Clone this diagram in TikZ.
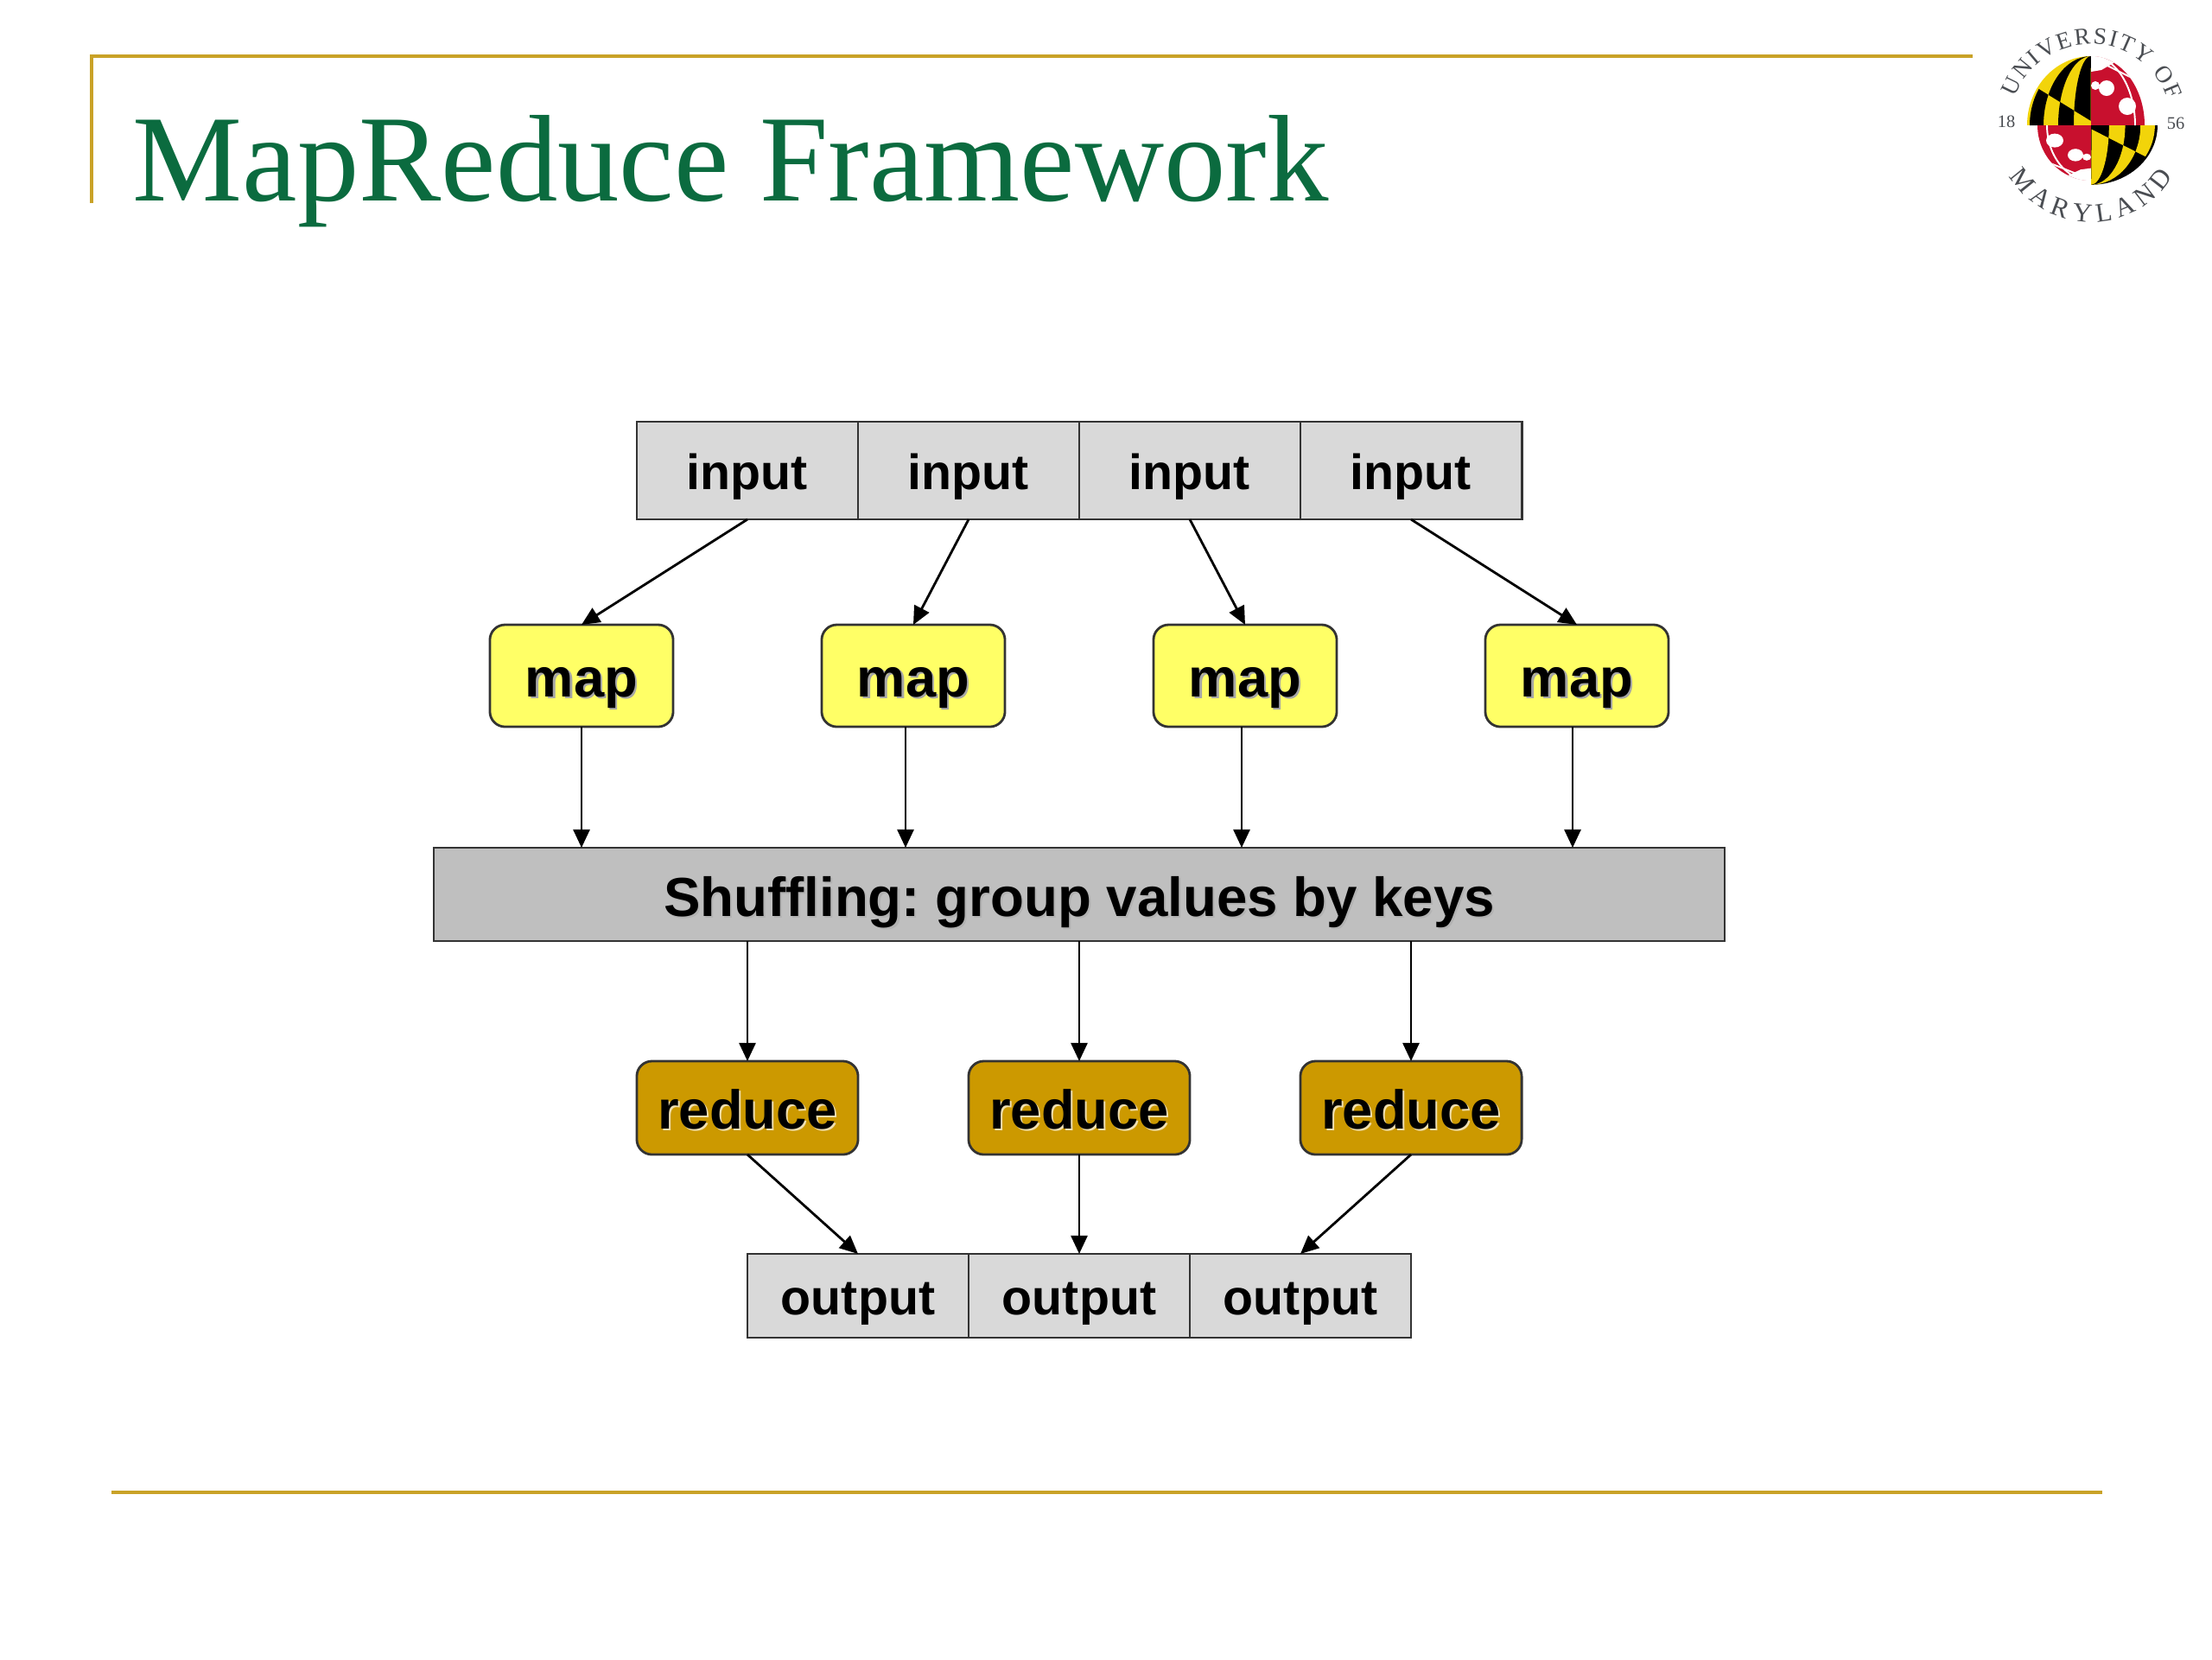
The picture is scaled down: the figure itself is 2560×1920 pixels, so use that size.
\documentclass[tikz,border=0pt]{standalone}
\usepackage{fontspec}
\setmainfont{Liberation Sans}
\newfontfamily\serifface{Liberation Serif}
\usetikzlibrary{arrows.meta,decorations.text}

\definecolor{rulegold}{HTML}{C9A227}
\definecolor{titlegreen}{HTML}{0B6B3F}
\definecolor{inputgray}{HTML}{D9D9D9}
\definecolor{shufflegray}{HTML}{BFBFBF}
\definecolor{mapyellow}{HTML}{FFFF66}
\definecolor{reducegold}{HTML}{CC9900}
\definecolor{logogray}{HTML}{4A4D52}
\definecolor{flaggold}{HTML}{F2D40A}
\definecolor{flagred}{HTML}{C8102E}
\colorlet{bandfore}{black}
\colorlet{bandback}{flaggold}

\newcommand{\softtext}[2]{\makebox[0pt][l]{\raisebox{-0.6pt}{\hspace{0.6pt}\textcolor{#1}{#2}}}#2}
\newcommand{\logofont}{\serifface\fontsize{7.8}{9}\selectfont\color{logogray}}
\newcommand{\logofontbig}{\serifface\fontsize{8.8}{10}\selectfont\color{logogray}}
\newcommand{\band}[2]{(0,80) arc[start angle=90, end angle=180, x radius=#2, y radius=80] -- (-#1,0) arc[start angle=180, end angle=90, x radius=#1, y radius=80] -- cycle}

\tikzset{
  calvert/.pic={
    % quarter of the globe with the black and gold bands
    \begin{scope}
      \clip (0,0) -- (-74,0) arc[start angle=180, end angle=90, x radius=74, y radius=80] -- cycle;
      \fill[bandback] (-80,0) rectangle (0,80);
      \begin{scope}
        \clip (-80,54) -- (0,5) -- (0,85) -- (-80,85) -- cycle;
        \foreach \a/\b in {0.5/20, 38/55}
          \fill[bandfore] \band{\a}{\b};
      \end{scope}
      \begin{scope}
        \clip (-80,54) -- (0,5) -- (0,0) -- (-80,0) -- cycle;
        \foreach \a/\b in {20/38, 55/71}
          \fill[bandfore] \band{\a}{\b};
      \end{scope}
    \end{scope}
  },
  crossland/.pic={
    % quarter of the globe with the red field
    \begin{scope}
      \clip (0,0) -- (62,0) arc[start angle=0, end angle=90, x radius=62, y radius=80] -- cycle;
      \fill[flagred] (0,0) rectangle (80,80);
      \fill[white] (0,80) -- (0,62) -- (12,64) -- (26,72) -- (26,80) -- cycle;
      \fill[white] (18,43) circle (9);
      \fill[white] (5,46) circle (5);
      \fill[white] (42,22) circle (10);
      \draw[white, line width=0.55pt] (7,75) -- (57,50);
      \draw[white, line width=0.55pt] (0,80) arc[start angle=90, end angle=0, x radius=51, y radius=80];
    \end{scope}
  },
}

\begin{document}
\begin{tikzpicture}[
    x=0.01cm, y=-0.01cm,
    >={Triangle[length=6pt, width=5.4pt]},
    cell/.style={draw=black!80, line width=0.8pt, inner sep=0pt, outer sep=0pt, minimum width=2.56cm, font=\bfseries\fontsize{16.3}{18}\selectfont},
    inputbox/.style={cell, fill=inputgray, minimum height=1.13cm, text height=12.4pt, text depth=0pt},
    outputbox/.style={cell, fill=inputgray, minimum height=0.97cm, text height=12.6pt, text depth=0pt},
    mapbox/.style={draw=black!80, line width=0.8pt, rounded corners=5pt, fill=mapyellow, inner sep=0pt, outer sep=0pt, minimum width=2.12cm, minimum height=1.18cm, font=\bfseries\fontsize{18}{20}\selectfont, text height=14pt, text depth=0pt},
    reducebox/.style={mapbox, fill=reducegold, minimum width=2.56cm, minimum height=1.08cm},
    shufflebox/.style={cell, fill=shufflegray, minimum width=14.93cm, minimum height=1.08cm, font=\bfseries\fontsize{18.1}{20}\selectfont, text height=14.6pt, text depth=0pt},
    flow/.style={->, line width=0.8pt, black},
    goldline/.style={rulegold, line width=1.3pt},
]
\useasboundingbox (0,0) rectangle (2560,1920);

% slide frame
\coordinate (frametop) at (106,235);
\coordinate (framecorner) at (106,65);
\coordinate (frameend) at (2283,65);
\draw[goldline] (frametop) -- (framecorner) -- (frameend);
\coordinate (footleft) at (129,1727);
\coordinate (footright) at (2433,1727);
\draw[goldline] (footleft) -- (footright);
\node[anchor=base west, inner sep=0pt, text=titlegreen, font=\serifface\fontsize{40.6}{44}\selectfont] (title) at (153,232) {MapReduce Framework};

% boxes
\node[inputbox] (in1) at (865,544.5) {input};
\node[inputbox] (in2) at (1121,544.5) {input};
\node[inputbox] (in3) at (1377,544.5) {input};
\node[inputbox] (in4) at (1633,544.5) {input};

\node[mapbox] (map1) at (673,782) {\softtext{black!35}{map}};
\node[mapbox] (map2) at (1057,782) {\softtext{black!35}{map}};
\node[mapbox] (map3) at (1441,782) {\softtext{black!35}{map}};
\node[mapbox] (map4) at (1825,782) {\softtext{black!35}{map}};

\node[shufflebox] (shuffle) at (1249,1035) {\frenchspacing\softtext{white!70!black}{Shuffling: group values by keys}};

\node[reducebox] (red1) at (865,1282) {\softtext{white!70!reducegold}{reduce}};
\node[reducebox] (red2) at (1249,1282) {\softtext{white!70!reducegold}{reduce}};
\node[reducebox] (red3) at (1633,1282) {\softtext{white!70!reducegold}{reduce}};

\node[outputbox] (out1) at (993,1499.5) {output};
\node[outputbox] (out2) at (1249,1499.5) {output};
\node[outputbox] (out3) at (1505,1499.5) {output};

% connectors
\foreach \i in {1,2,3,4}
  \draw[flow] (in\i.south) -- (map\i.north);
\foreach \i/\x in {1/673, 2/1048, 3/1437, 4/1820} {
  \coordinate (drop\i) at (\x,981);
  \draw[flow] (map\i.south -| drop\i) -- (drop\i);
}
\foreach \i in {1,2,3}
  \draw[flow] (shuffle.south -| red\i.north) -- (red\i.north);
\foreach \i in {1,2,3}
  \draw[flow] (red\i.south) -- (out\i.north);

% logo
\begin{scope}[shift={(2420,145)}, x=0.01cm, y=0.01cm]
  \pic {calvert};
  \begin{scope}
    \colorlet{bandfore}{flaggold}
    \colorlet{bandback}{black}
    \pic[rotate=180, xscale=1.04, yscale=0.86] {calvert};
  \end{scope}
  \pic {crossland};
  \pic[rotate=180, yscale=0.8] {crossland};
  \path[postaction={decorate, decoration={text along path, text align={fit to path}, text={|\logofont|UNIVERSITY OF}}}]
    (160:94) arc[start angle=160, end angle=18, radius=94];
  \path[postaction={decorate, decoration={text along path, text align={fit to path}, text={|\logofontbig|MARYLAND}}}]
    (212:112) arc[start angle=212, end angle=328, radius=112];
  \node[inner sep=0pt, text=logogray, font=\serifface\fontsize{5.8}{6}\selectfont] (yearleft) at (-98,4) {18};
  \node[inner sep=0pt, text=logogray, font=\serifface\fontsize{5.8}{6}\selectfont] (yearright) at (98,2) {56};
\end{scope}
\end{tikzpicture}
\end{document}
